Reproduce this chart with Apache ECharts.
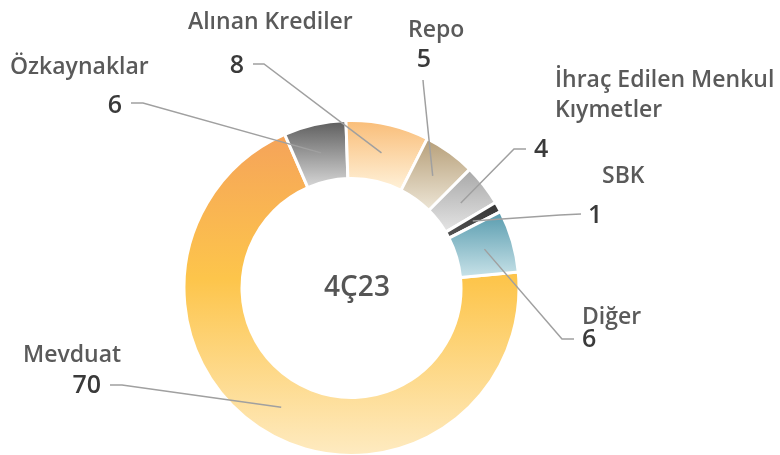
<!DOCTYPE html>
<html>
<head>
<meta charset="utf-8">
<script src="https://cdn.jsdelivr.net/npm/echarts@6/dist/echarts.min.js"></script>
<style>
  html, body { margin: 0; padding: 0; background: #ffffff; }
  #chart { width: 780px; height: 455px; }
</style>
</head>
<body>
<div id="chart"></div>
<script>
// Funding structure, 4Q23 (%)
const categories = ['Mevduat', 'Özkaynaklar', 'Alınan Krediler', 'Repo', 'İhraç Edilen Menkul Kıymetler', 'SBK', 'Diğer'];
const values = [70, 6, 8, 5, 4, 1, 6];
const centerTitle = '4Ç23';

// Slice gradients (top -> bottom)
const sliceColors = [
  [[0, '#F5A35A'], [0.45, '#FDC54B'], [1, '#FEEBC2']],
  [[0, '#5A5A5A'], [1, '#DADADA']],
  [[0, '#F9BC76'], [1, '#FFF3DC']],
  [[0, '#B59D76'], [1, '#EEE7D8']],
  [[0, '#A6A6A6'], [1, '#E6E6E6']],
  [[0, '#333333'], [1, '#555555']],
  [[0, '#5499AC'], [1, '#CBE4EA']]
];

// Geometry of the ring
const CX = 351.5, CY = 288, R_IN = 111, R_OUT = 166;

// Value label placement: [x, y, align]
const valueLabelPos = [
  [101, 386, 'right'],
  [122, 106, 'right'],
  [244, 66, 'right'],
  [424, 60, 'center'],
  [534, 150, 'left'],
  [588, 216, 'left'],
  [582, 340, 'left']
];
// Leader line: [elbow, end] near the value label
const leaderPts = [
  [[122, 385], [110, 385]],
  [[143, 103], [131, 103]],
  [[264, 64], [253, 64]],
  [[423.5, 86], [423, 80]],
  [[514, 149], [526, 149]],
  [[560, 215], [581, 214]],
  [[562, 339], [574, 339]]
];
// Category name placement: [left x, first-line middle y]
const namePos = [
  [23, 355],
  [10, 67],
  [188, 22],
  [408, 30],
  [555, 80],
  [602, 176],
  [582, 317]
];
const nameText = ['Mevduat', 'Özkaynaklar', 'Alınan Krediler', 'Repo', 'İhraç Edilen Menkul\nKıymetler', 'SBK', 'Diğer'];

const FONT = '"Open Sans", "Noto Sans", sans-serif';
const NAME_LINE = 30;

const chart = echarts.init(document.getElementById('chart'), null, { renderer: 'canvas' });

const seriesData = categories.map((name, i) => ({
  name: name,
  value: values[i],
  itemStyle: {
    color: new echarts.graphic.LinearGradient(0, 0, 0, 1,
      sliceColors[i].map(s => ({ offset: s[0], color: s[1] })))
  }
}));

chart.setOption({
  animation: false,
  backgroundColor: '#ffffff',
  series: [{
    type: 'pie',
    center: [CX, CY],
    radius: [R_IN - 1.5, R_OUT + 1.5],
    startAngle: 5.5,
    clockwise: true,
    avoidLabelOverlap: false,
    silent: true,
    itemStyle: { borderColor: '#ffffff', borderWidth: 3 },
    label: {
      show: true,
      position: 'outside',
      formatter: '{c}',
      fontFamily: FONT,
      fontWeight: 600,
      fontSize: 25,
      color: '#3a3a3a'
    },
    labelLine: { show: false },
    labelLayout: function (p) {
      const v = valueLabelPos[p.dataIndex];
      return { x: v[0], y: v[1], align: v[2], verticalAlign: 'middle' };
    },
    data: seriesData
  }]
});

// Leader lines run from the middle of each slice (taken from the pie layout) to its value
const pieData = chart.getModel().getSeriesByIndex(0).getData();
const graphics = [];
categories.forEach((c, i) => {
  const lay = pieData.getItemLayout(i);
  const mid = (lay.startAngle + lay.endAngle) / 2;
  const rm = (lay.r + lay.r0) / 2;
  const anchor = [lay.cx + Math.cos(mid) * rm, lay.cy + Math.sin(mid) * rm];
  graphics.push({
    type: 'polyline',
    silent: true,
    z: 10,
    shape: { points: [anchor, leaderPts[i][0], leaderPts[i][1]] },
    style: { stroke: '#a0a0a0', lineWidth: 1.5, fill: null }
  });
});
nameText.forEach((t, i) => {
  graphics.push({
    type: 'text',
    left: namePos[i][0],
    top: namePos[i][1] - NAME_LINE / 2,
    silent: true,
    style: {
      text: t,
      font: '600 23px ' + FONT,
      fill: '#5a5a5a',
      lineHeight: NAME_LINE
    }
  });
});
graphics.push({
  type: 'text',
  x: 357,
  y: 288,
  silent: true,
  style: {
    text: centerTitle,
    font: '600 28px ' + FONT,
    fill: '#555555',
    align: 'center',
    verticalAlign: 'middle'
  }
});
chart.setOption({ graphic: graphics });
</script>
</body>
</html>
